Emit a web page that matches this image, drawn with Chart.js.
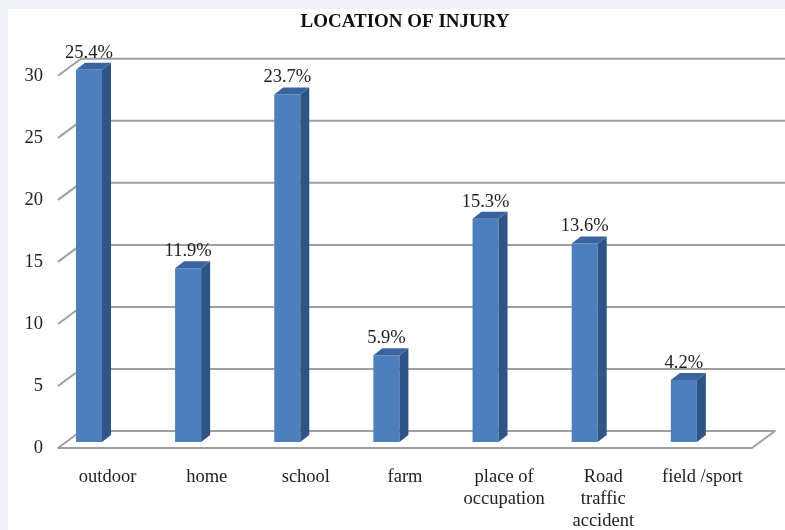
<!DOCTYPE html>
<html>
<head>
<meta charset="utf-8">
<script src="https://cdn.jsdelivr.net/npm/chart.js@4.4.1/dist/chart.umd.min.js"></script>
<style>
    html, body { margin: 0; padding: 0; background: #eff1f7; }
    #wrap { width: 785px; height: 530px; }
</style>
</head>
<body>
<div id="wrap"><canvas id="injuryChart" width="785" height="530"></canvas></div>
<script>
// chart values
const categories = ["outdoor", "home", "school", "farm", ["place of", "occupation"], ["Road", "traffic", "accident"], "field /sport"];
const counts = [30, 14, 28, 7, 18, 16, 5];
const percentLabels = ["25.4%", "11.9%", "23.7%", "5.9%", "15.3%", "13.6%", "4.2%"];
const yTicks = [0, 5, 10, 15, 20, 25, 30];

const SERIF = "'Liberation Serif', 'Times New Roman', serif";
const FONT_SIZE = 18.5;
const DEPTH_X = 23, DEPTH_Y = 17;   // wall depth
const BAR_DX = 9, BAR_DY = 7;       // bar depth

const panelPlugin = {
    id: "panel",
    beforeDraw(chart) {
        const ctx = chart.ctx;
        ctx.save();
        ctx.fillStyle = "#eff1f7";
        ctx.fillRect(0, 0, chart.width, chart.height);
        ctx.fillStyle = "#ffffff";
        ctx.fillRect(8, 9, chart.width - 8, chart.height - 9);
        ctx.restore();
    }
};

// back wall grid + floor drawn in oblique projection
const wallPlugin = {
    id: "wall",
    beforeDatasetsDraw(chart) {
        const ctx = chart.ctx;
        const ys = chart.scales.y;
        const L = chart.chartArea.left, R = chart.chartArea.right;
        ctx.save();
        ctx.strokeStyle = "#a0a0a0";
        ctx.lineWidth = 2;
        ctx.lineJoin = "round";
        yTicks.forEach(v => {
            const yf = ys.getPixelForValue(v) + 6;
            const yb = yf - DEPTH_Y;
            ctx.beginPath();
            if (v === 0) {
                ctx.moveTo(L + DEPTH_X, yb);
                ctx.lineTo(L, yf);
                ctx.lineTo(R, yf);
                ctx.lineTo(R + DEPTH_X, yb);
                ctx.lineTo(L + DEPTH_X, yb);
            } else {
                ctx.moveTo(L, yf);
                ctx.lineTo(L + DEPTH_X, yb);
                ctx.lineTo(chart.width, yb);
            }
            ctx.stroke();
        });
        ctx.restore();
    }
};

// side and top faces of bars + value labels
const barFacesPlugin = {
    id: "barFaces",
    afterDatasetsDraw(chart) {
        const ctx = chart.ctx;
        const meta = chart.getDatasetMeta(0);
        ctx.save();
        meta.data.forEach((bar, i) => {
            const p = bar.getProps(["x", "y", "base", "width"], true);
            const l = p.x - p.width / 2, r = p.x + p.width / 2;
            ctx.fillStyle = "#2f5587";
            ctx.beginPath();
            ctx.moveTo(r, p.y);
            ctx.lineTo(r + BAR_DX, p.y - BAR_DY);
            ctx.lineTo(r + BAR_DX, p.base - BAR_DY);
            ctx.lineTo(r, p.base);
            ctx.closePath();
            ctx.fill();
            ctx.fillStyle = "#3a64a0";
            ctx.beginPath();
            ctx.moveTo(l, p.y);
            ctx.lineTo(l + BAR_DX, p.y - BAR_DY);
            ctx.lineTo(r + BAR_DX, p.y - BAR_DY);
            ctx.lineTo(r, p.y);
            ctx.closePath();
            ctx.fill();

            ctx.fillStyle = "#222";
            ctx.font = FONT_SIZE + "px " + SERIF;
            ctx.textAlign = "center";
            ctx.textBaseline = "middle";
            ctx.fillText(percentLabels[i], p.x, p.y - 17);
        });
        ctx.restore();
    }
};

const ctx = document.getElementById("injuryChart").getContext("2d");
const injuryChart = new Chart(ctx, {
    type: "bar",
    data: {
        labels: categories,
        datasets: [{
            data: counts,
            backgroundColor: "#4c7fbc",
            borderWidth: 0,
            categoryPercentage: 0.75,
            barPercentage: 0.7
        }, {
            // empty slot so the bars sit toward the front-left like the 3D original
            data: categories.map(() => null),
            categoryPercentage: 0.75,
            barPercentage: 0.7
        }]
    },
    options: {
        responsive: false,
        animation: false,
        devicePixelRatio: 1,
        layout: { padding: { left: 16, right: 33, top: 0, bottom: 0 } },
        plugins: {
            legend: { display: false },
            tooltip: { enabled: false },
            title: {
                display: true,
                fullSize: false,
                text: "LOCATION OF INJURY",
                color: "#111",
                font: { family: SERIF, size: 19, weight: "bold" },
                padding: { top: 11, bottom: 36 }
            }
        },
        scales: {
            x: {
                grid: { display: false, drawTicks: false },
                border: { display: false },
                ticks: {
                    color: "#222",
                    font: { family: SERIF, size: FONT_SIZE, lineHeight: 1.19 },
                    padding: 24,
                    maxRotation: 0,
                    autoSkip: false
                },
                afterFit(scale) { scale.height = 88; }
            },
            y: {
                min: 0,
                max: 30,
                grid: { display: false, drawTicks: false },
                border: { display: false },
                ticks: {
                    stepSize: 5,
                    color: "#222",
                    font: { family: SERIF, size: FONT_SIZE },
                    padding: 15,
                    labelOffset: 6
                },
                afterFit(scale) { scale.width = 42; }
            }
        }
    },
    plugins: [panelPlugin, wallPlugin, barFacesPlugin]
});
</script>
</body>
</html>
